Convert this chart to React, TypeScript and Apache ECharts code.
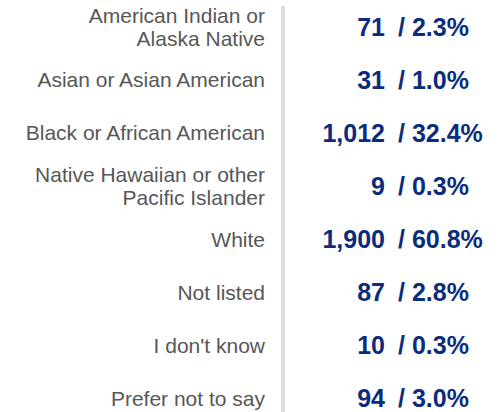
import React, { useEffect, useRef } from "react";
import * as echarts from "echarts";

const categories = [
  "American Indian or\nAlaska Native",
  "Asian or Asian American",
  "Black or African American",
  "Native Hawaiian or other\nPacific Islander",
  "White",
  "Not listed",
  "I don't know",
  "Prefer not to say",
];
const counts = [71, 31, 1012, 9, 1900, 87, 10, 94];
const percents = [2.3, 1.0, 32.4, 0.3, 60.8, 2.8, 0.3, 3.0];

const NAVY = "#0b2c7c";
const FONT = "'Liberation Sans', Arial, sans-serif";

export default function App() {
  const ref = useRef<HTMLDivElement>(null);
  useEffect(() => {
    document.body.style.margin = "0";
    const chart = echarts.init(ref.current!, undefined, { renderer: "svg" });
    const pts = categories.map((c) => [0.5, c]);
    const valueLabel = {
      show: true,
      color: NAVY,
      opacity: 1,
      fontSize: 25,
      fontWeight: "bold",
      fontFamily: FONT,
    };
    chart.setOption({
      animation: false,
      grid: { left: 283, right: 0, top: 0, bottom: 0 },
      xAxis: { type: "value", min: 0, max: 1, show: false },
      yAxis: {
        type: "category",
        inverse: true,
        data: categories,
        axisLine: { show: false },
        axisTick: { show: false },
        splitLine: { show: false },
        axisLabel: {
          margin: 18,
          color: "#575757",
          fontSize: 21,
          lineHeight: 23,
          fontFamily: FONT,
          align: "right",
        },
      },
      graphic: [
        {
          type: "line",
          shape: { x1: 283, y1: 6, x2: 283, y2: 425 },
          style: { stroke: "#dddddd", lineWidth: 4 },
          silent: true,
        },
      ],
      series: [
        {
          type: "scatter",
          symbolSize: 0,
          itemStyle: { opacity: 1 },
          data: pts,
          label: {
            ...valueLabel,
            position: "left",
            distance: 5.5,
            formatter: (p: any) => counts[p.dataIndex].toLocaleString("en-US"),
          },
        },
        {
          type: "scatter",
          symbolSize: 0,
          itemStyle: { opacity: 1 },
          data: pts,
          label: {
            ...valueLabel,
            position: "right",
            distance: 7.5,
            formatter: (p: any) => "/ " + percents[p.dataIndex].toFixed(1) + "%",
          },
        },
      ],
    });
    return () => chart.dispose();
  }, []);
  return (
    <div style={{ width: 498, height: 412, overflow: "hidden" }}>
      <div ref={ref} style={{ width: 498, height: 425 }} />
    </div>
  );
}
